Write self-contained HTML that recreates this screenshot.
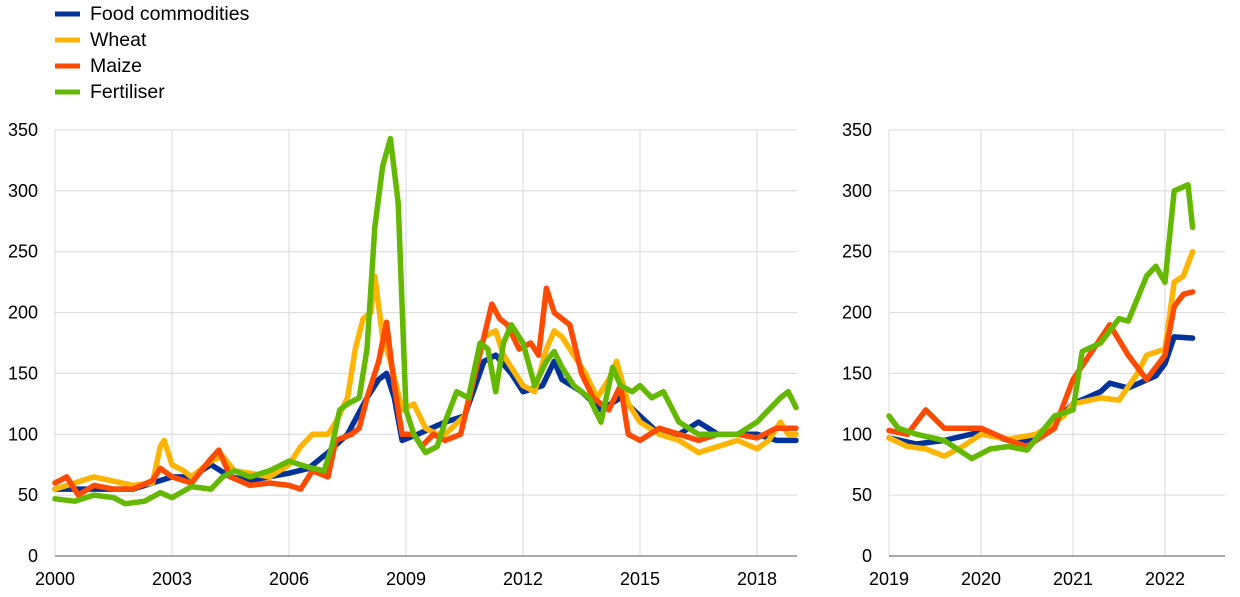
<!DOCTYPE html>
<html><head><meta charset="utf-8"><style>
body{margin:0;background:#fff;}
svg{display:block;font-family:"Liberation Sans",Arial,sans-serif;}
</style></head><body>
<svg id="s" width="1240" height="597" xmlns="http://www.w3.org/2000/svg">
<g id="grid" stroke="#d9d9d9" stroke-width="1"></g>
<g id="lab" font-size="18" fill="#000"></g>
<g id="lines" fill="none" stroke-width="5.5" stroke-linejoin="round" stroke-linecap="round"></g>
<g font-size="19.5">
<line x1="55" y1="14" x2="80" y2="14" stroke="#003299" stroke-width="5"/><text x="90" y="20">Food commodities</text>
<line x1="55" y1="40" x2="80" y2="40" stroke="#ffb400" stroke-width="5"/><text x="90" y="46">Wheat</text>
<line x1="55" y1="66" x2="80" y2="66" stroke="#ff4b00" stroke-width="5"/><text x="90" y="72">Maize</text>
<line x1="55" y1="92" x2="80" y2="92" stroke="#65b800" stroke-width="5"/><text x="90" y="98">Fertiliser</text>
</g>
</svg>
<script>
var NS="http://www.w3.org/2000/svg";
function el(p,t,a,txt){var e=document.createElementNS(NS,t);for(var k in a)e.setAttribute(k,a[k]);if(txt!==undefined)e.textContent=txt;document.getElementById(p).appendChild(e);}
function Y(v){return 556-v*1.2171;}
var panels=[{x0:55,x1:797,y0:2000,px:39,ticks:[2000,2003,2006,2009,2012,2015,2018],lx:38},
{x0:889,x1:1225,y0:2019,px:92,ticks:[2019,2020,2021,2022],lx:872}];
panels.forEach(function(p){
 for(var v=0;v<=350;v+=50){ if(v>0)el("grid","line",{x1:p.x0,x2:p.x1,y1:Y(v),y2:Y(v)});
  el("lab","text",{x:p.lx,y:Y(v)+6,"text-anchor":"end"},v);}
 p.ticks.forEach(function(t){var x=p.x0+(t-p.y0)*p.px;el("grid","line",{x1:x,x2:x,y1:Y(350),y2:556});
  el("lab","text",{x:x,y:585,"text-anchor":"middle"},t);});
 el("lab","line",{x1:p.x0,x2:p.x1,y1:556,y2:556,stroke:"#555","stroke-width":1});
});
var L={
food:[[2000,55],[2001,55],[2002,55],[2002.5,60],[2003,65],[2003.5,65],[2004,75],[2004.5,65],[2005,62],[2006,68],[2006.5,72],[2007,85],[2007.5,100],[2008,130],[2008.3,145],[2008.5,150],[2008.7,130],[2008.9,95],[2009.3,100],[2010,110],[2010.5,115],[2011,160],[2011.3,165],[2011.7,150],[2012,135],[2012.5,140],[2012.8,160],[2013,145],[2013.5,135],[2014,120],[2014.5,130],[2015,115],[2015.5,100],[2016,100],[2016.5,110],[2017,100],[2018,100],[2018.5,95],[2019,95]],
wheat:[[2000,55],[2001,65],[2002,58],[2002.5,60],[2002.7,90],[2002.8,95],[2003,75],[2003.3,70],[2003.5,65],[2004,78],[2004.3,82],[2004.6,70],[2005,68],[2005.5,65],[2006,75],[2006.3,90],[2006.6,100],[2007,100],[2007.2,110],[2007.5,130],[2007.7,170],[2007.9,195],[2008.1,200],[2008.2,230],[2008.4,180],[2008.6,160],[2008.9,120],[2009.2,125],[2009.5,105],[2009.8,100],[2010,100],[2010.5,115],[2010.8,155],[2011,180],[2011.3,185],[2011.5,165],[2011.8,150],[2012,140],[2012.3,135],[2012.6,170],[2012.8,185],[2013,180],[2013.3,165],[2013.6,150],[2013.9,130],[2014.2,145],[2014.4,160],[2014.7,125],[2015,110],[2015.5,100],[2016,95],[2016.5,85],[2017,90],[2017.5,95],[2018,88],[2018.3,95],[2018.6,110],[2018.8,100],[2019,100]],
maize:[[2000,60],[2000.3,65],[2000.6,50],[2001,58],[2001.5,55],[2002,55],[2002.5,62],[2002.7,72],[2003,65],[2003.5,60],[2004,80],[2004.2,87],[2004.5,65],[2005,58],[2005.5,60],[2006,58],[2006.3,55],[2006.6,70],[2007,65],[2007.2,95],[2007.6,100],[2007.8,105],[2008,130],[2008.3,160],[2008.5,192],[2008.7,140],[2008.9,100],[2009.2,100],[2009.4,90],[2009.7,100],[2010,95],[2010.4,100],[2010.7,140],[2011,180],[2011.2,207],[2011.4,195],[2011.6,190],[2011.9,170],[2012.2,175],[2012.4,165],[2012.6,220],[2012.8,200],[2013,195],[2013.2,190],[2013.5,150],[2013.8,130],[2014.2,120],[2014.5,140],[2014.7,100],[2015,95],[2015.5,105],[2016,100],[2016.5,95],[2017,100],[2017.5,100],[2018,97],[2018.5,105],[2019,105]],
fert:[[2000,47],[2000.5,45],[2001,50],[2001.5,48],[2001.8,43],[2002.3,45],[2002.7,52],[2003,48],[2003.5,57],[2004,55],[2004.3,65],[2004.6,70],[2005,65],[2005.5,70],[2006,78],[2006.5,73],[2006.9,70],[2007.1,90],[2007.3,120],[2007.5,125],[2007.8,130],[2008,170],[2008.2,270],[2008.4,320],[2008.6,343],[2008.8,290],[2009,120],[2009.2,100],[2009.5,85],[2009.8,90],[2010,110],[2010.3,135],[2010.6,130],[2010.9,175],[2011.1,170],[2011.3,135],[2011.5,175],[2011.7,190],[2012,175],[2012.3,140],[2012.6,160],[2012.8,168],[2013,155],[2013.3,140],[2013.7,130],[2014,110],[2014.3,155],[2014.5,140],[2014.8,135],[2015,140],[2015.3,130],[2015.6,135],[2016,110],[2016.5,100],[2017,100],[2017.5,100],[2018,110],[2018.3,120],[2018.6,130],[2018.8,135],[2019,122]]};
var R={
food:[[2019,97],[2019.3,92],[2019.6,95],[2020,102],[2020.3,95],[2020.6,95],[2021,125],[2021.3,135],[2021.4,142],[2021.6,138],[2021.9,148],[2022,158],[2022.1,180],[2022.3,179]],
wheat:[[2019,97],[2019.2,90],[2019.4,88],[2019.6,82],[2019.8,90],[2020,100],[2020.3,96],[2020.6,100],[2020.9,115],[2021,125],[2021.3,130],[2021.5,128],[2021.7,150],[2021.8,165],[2022,170],[2022.1,225],[2022.2,230],[2022.3,250]],
maize:[[2019,103],[2019.2,100],[2019.4,120],[2019.6,105],[2019.8,105],[2020,105],[2020.3,95],[2020.5,90],[2020.8,105],[2021,145],[2021.4,190],[2021.6,165],[2021.8,145],[2022,165],[2022.1,205],[2022.2,215],[2022.3,217]],
fert:[[2019,115],[2019.1,105],[2019.3,100],[2019.6,95],[2019.9,80],[2020.1,88],[2020.3,90],[2020.5,87],[2020.8,115],[2021,120],[2021.1,168],[2021.3,175],[2021.5,195],[2021.6,193],[2021.8,230],[2021.9,238],[2022,225],[2022.1,300],[2022.25,305],[2022.3,270]]};
var C={food:"#003299",wheat:"#ffb400",maize:"#ff4b00",fert:"#65b800"};
[[L,panels[0]],[R,panels[1]]].forEach(function(q){var d=q[0],p=q[1];
 ["food","wheat","maize","fert"].forEach(function(k){
  var pts=d[k].map(function(a){return (p.x0+(a[0]-p.y0)*p.px).toFixed(1)+","+Y(a[1]).toFixed(1);}).join(" ");
  el("lines","polyline",{points:pts,stroke:C[k]});});});
</script>
</body></html>
